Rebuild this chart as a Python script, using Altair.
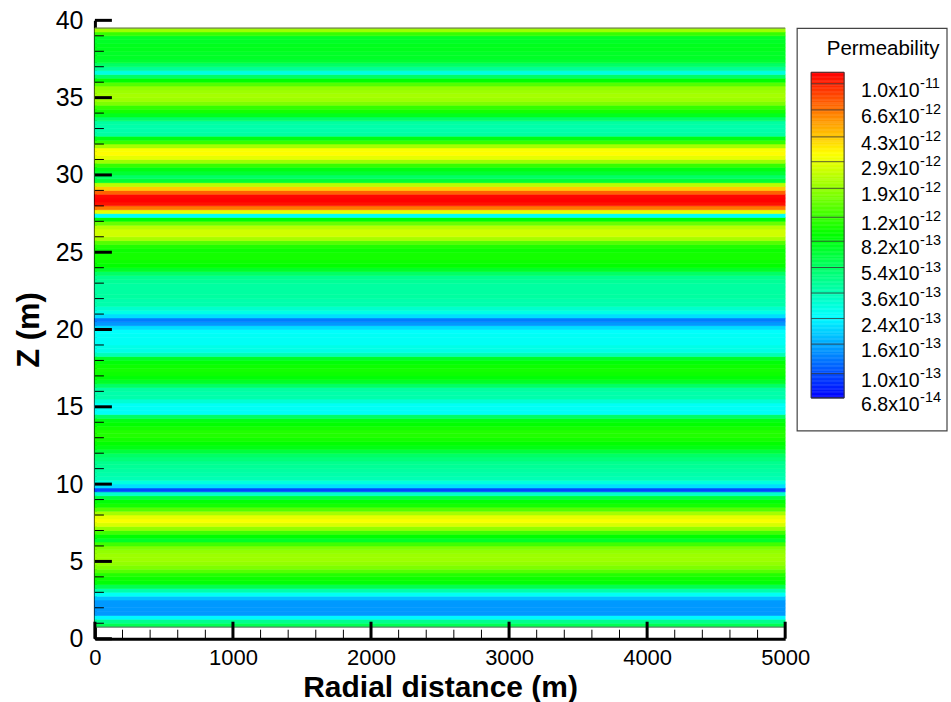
import numpy as np
import pandas as pd
import altair as alt

# ---------------------------------------------------------------------------
# Permeability profile (m^2): one value per 0.25 m layer, from z = 0.75 m up to
# z = 39.5 m. The field does not vary with radial distance.
# ---------------------------------------------------------------------------
z_start = 0.75
layer_dz = 0.25
r_min, r_max = 0.0, 5000.0

permeability = [
    6.0e-13,
    4.4e-13, 2.4e-13, 1.48e-13, 1.48e-13,      # 1.0 - 2.0 m
    1.48e-13, 1.48e-13, 1.8e-13, 2.6e-13,      # 2 - 3
    3.8e-13, 6.0e-13, 8.7e-13, 9.6e-13,        # 3 - 4
    1.07e-12, 1.38e-12, 1.7e-12, 1.9e-12,      # 4 - 5
    2.0e-12, 2.0e-12, 1.9e-12, 1.7e-12,        # 5 - 6
    1.25e-12, 7.4e-13, 9.1e-13, 1.25e-12,      # 6 - 7
    1.9e-12, 2.7e-12, 3.2e-12, 2.9e-12,        # 7 - 8
    2.1e-12, 1.38e-12, 1.0e-12, 8.7e-13,       # 8 - 9
    6.7e-13, 3.2e-13, 9.8e-14, 2.1e-13,        # 9 - 10
    2.9e-13, 3.6e-13, 3.8e-13, 4.0e-13,        # 10 - 11
    4.2e-13, 4.4e-13, 4.9e-13, 5.4e-13,        # 11 - 12
    6.7e-13, 8.2e-13, 9.1e-13, 1.0e-12,        # 12 - 13
    1.07e-12, 1.07e-12, 1.0e-12, 9.1e-13,      # 13 - 14
    8.2e-13, 5.4e-13, 2.6e-13, 2.6e-13,        # 14 - 15
    2.6e-13, 3.1e-13, 3.8e-13, 3.8e-13,        # 15 - 16
    4.0e-13, 5.4e-13, 7.4e-13, 8.7e-13,        # 16 - 17
    9.6e-13, 1.0e-12, 9.6e-13, 8.7e-13,        # 17 - 18
    7.4e-13, 3.6e-13, 2.8e-13, 2.8e-13,        # 18 - 19
    2.6e-13, 2.6e-13, 2.6e-13, 2.5e-13,        # 19 - 20
    2.1e-13, 1.48e-13, 1.27e-13, 2.1e-13,      # 20 - 21
    2.8e-13, 3.2e-13, 3.8e-13, 3.8e-13,        # 21 - 22
    4.0e-13, 4.0e-13, 4.0e-13, 4.0e-13,        # 22 - 23
    4.2e-13, 4.4e-13, 5.4e-13, 7.4e-13,        # 23 - 24
    9.1e-13, 9.6e-13, 1.0e-12, 1.0e-12,        # 24 - 25
    9.6e-13, 1.07e-12, 1.38e-12, 2.1e-12,      # 25 - 26
    2.6e-12, 2.6e-12, 2.3e-12, 1.53e-12,       # 26 - 27
    9.1e-13, 2.5e-13, 2.9e-12, 6.6e-12,        # 27 - 28
    1.1e-11, 1.2e-11, 1.16e-11, 7.3e-12,       # 28 - 29
    4.3e-12, 2.3e-12, 7.0e-13, 5.4e-13,        # 29 - 30
    7.0e-13, 8.2e-13, 1.18e-12, 2.0e-12,       # 30 - 31
    2.9e-12, 3.35e-12, 3.2e-12, 2.1e-12,       # 31 - 32
    1.18e-12, 8.2e-13, 4.0e-13, 3.8e-13,       # 32 - 33
    3.8e-13, 4.0e-13, 5.4e-13, 7.8e-13,        # 33 - 34
    1.0e-12, 1.18e-12, 1.7e-12, 2.0e-12,       # 34 - 35
    2.1e-12, 2.0e-12, 1.9e-12, 1.38e-12,       # 35 - 36
    9.1e-13, 5.4e-13, 2.9e-13, 4.2e-13,        # 36 - 37
    5.4e-13, 7.0e-13, 7.4e-13, 7.4e-13,        # 37 - 38
    7.8e-13, 7.8e-13, 7.4e-13, 7.4e-13,        # 38 - 39
    1.18e-12, 2.0e-12,                         # 39 - 39.5
]

# Contour levels shown in the colour bar
levels = [6.8e-14, 1.0e-13, 1.6e-13, 2.4e-13, 3.6e-13, 5.4e-13, 8.2e-13,
          1.2e-12, 1.9e-12, 2.9e-12, 4.3e-12, 6.6e-12, 1.0e-11]
level_mantissa = ["6.8x10", "1.0x10", "1.6x10", "2.4x10", "3.6x10", "5.4x10",
                  "8.2x10", "1.2x10", "1.9x10", "2.9x10", "4.3x10", "6.6x10",
                  "1.0x10"]
level_exponent = ["-14", "-13", "-13", "-13", "-13", "-13", "-13",
                  "-12", "-12", "-12", "-12", "-12", "-11"]
k_low, k_high = 6.8e-14, 1.2e-11

x_ticks_major = [0, 1000, 2000, 3000, 4000, 5000]
x_ticks_minor = [v for v in range(0, 5001, 200) if v % 1000]
y_ticks_major = [0, 5, 10, 15, 20, 25, 30, 35, 40]
y_ticks_minor = [v for v in range(0, 41) if v % 5]

# ---------------------------------------------------------------------------
FONT = "Liberation Sans"
W, H = 691, 619

rainbow = ["#0000ff", "#00ffff", "#00ff00", "#ffff00", "#ff0000"]
cdomain = [float(v) for v in np.geomspace(k_low, k_high, len(rainbow))]


def cscale():
    return alt.Scale(type="log", domain=cdomain, range=rainbow,
                     interpolate="rgb", clamp=True)


z_lo = [z_start + i * layer_dz for i in range(len(permeability))]
cells = pd.DataFrame({
    "z0": z_lo,
    "z1": [z + layer_dz for z in z_lo],
    "k": permeability,
    "r0": r_min,
    "r1": r_max,
})

xscale = alt.Scale(domain=[0, 5000], nice=False, zero=False)
yscale = alt.Scale(domain=[0, 40], nice=False, zero=False)

xaxis = alt.Axis(values=x_ticks_major, format="d", title="Radial distance (m)",
                 grid=False, ticks=False, tickSize=0, domainWidth=3,
                 domainColor="black", labelFont=FONT, labelFontSize=22,
                 labelColor="black", labelPadding=9, labelFlush=False,
                 titleFont=FONT, titleFontSize=30, titleFontWeight="bold",
                 titleColor="black", titlePadding=4)
yaxis = alt.Axis(values=y_ticks_major, format="d", title="Z (m)",
                 grid=False, ticks=False, tickSize=0, domainWidth=3,
                 domainColor="black", labelFont=FONT, labelFontSize=25,
                 labelColor="black", labelPadding=12, labelFlush=False,
                 titleFont=FONT, titleFontSize=31, titleFontWeight="bold",
                 titleColor="black", titlePadding=10)

field = alt.Chart(cells).mark_rect(strokeWidth=0.6).encode(
    x=alt.X("r0:Q", scale=xscale, axis=xaxis),
    x2="r1:Q",
    y=alt.Y("z0:Q", scale=yscale, axis=yaxis),
    y2="z1:Q",
    color=alt.Color("k:Q", scale=cscale(), legend=None),
    stroke=alt.Stroke("k:Q", scale=cscale(), legend=None),
)

# mesh boundary lines at the top and bottom of the model
bounds = pd.DataFrame({"z": [z_lo[0], z_lo[-1] + layer_dz], "r0": r_min, "r1": r_max})
edges = alt.Chart(bounds).mark_rule(color="#666666", strokeWidth=1).encode(
    y=alt.Y("z:Q", scale=yscale, axis=yaxis),
    x=alt.X("r0:Q", scale=xscale, axis=xaxis),
    x2="r1:Q",
)


# inward tick marks
def yticks(vals, length, width):
    return alt.Chart(pd.DataFrame({"v": vals})).mark_rule(
        color="black", strokeWidth=width).encode(
        y=alt.Y("v:Q", scale=yscale, axis=yaxis),
        x=alt.value(0), x2=alt.value(length))


def xticks(vals, length, width):
    return alt.Chart(pd.DataFrame({"v": vals})).mark_rule(
        color="black", strokeWidth=width).encode(
        x=alt.X("v:Q", scale=xscale, axis=xaxis),
        y=alt.value(H), y2=alt.value(H - length))


main = alt.layer(
    field, edges,
    yticks(y_ticks_minor, 9, 1), yticks(y_ticks_major, 17, 3),
    xticks(x_ticks_minor, 9, 1), xticks(x_ticks_major, 17, 3),
).properties(width=W, height=H)

# ---------------------------------------------------------------------------
# Colour bar
LW, LH = 150, 411
lscale = alt.Scale(type="log", domain=[k_low, k_high], range=[378, 52], nice=False)
bar_x0, bar_x1 = 14, 47
lab_x, lab_fs, exp_fs = 64, 19.5, 14.5
exp_x = lab_x + 3.002 * lab_fs + 0.5

edges_k = np.geomspace(k_low, k_high, 241)
grad = pd.DataFrame({"lo": edges_k[:-1], "hi": edges_k[1:],
                     "mid": np.sqrt(edges_k[:-1] * edges_k[1:])})

gradient = alt.Chart(grad).mark_rect(strokeWidth=0.5).encode(
    y=alt.Y("lo:Q", scale=lscale, axis=None), y2="hi:Q",
    x=alt.value(bar_x0), x2=alt.value(bar_x1),
    color=alt.Color("mid:Q", scale=cscale(), legend=None),
    stroke=alt.Stroke("mid:Q", scale=cscale(), legend=None),
)

lev = pd.DataFrame({"k": levels, "m": level_mantissa, "e": level_exponent})
lines = alt.Chart(lev).mark_rule(color="#333333", strokeWidth=1, opacity=0.8).encode(
    y=alt.Y("k:Q", scale=lscale, axis=None),
    x=alt.value(bar_x0), x2=alt.value(bar_x1))

outline = alt.Chart(pd.DataFrame({"a": [k_low], "b": [k_high]})).mark_rect(
    filled=False, stroke="#333333", strokeWidth=1).encode(
    y=alt.Y("a:Q", scale=lscale, axis=None), y2="b:Q",
    x=alt.value(bar_x0), x2=alt.value(bar_x1))

mant = alt.Chart(lev).mark_text(font=FONT, fontSize=lab_fs, align="left",
                                baseline="middle", dy=7, color="black").encode(
    y=alt.Y("k:Q", scale=lscale, axis=None), x=alt.value(lab_x), text="m:N")
expo = alt.Chart(lev).mark_text(font=FONT, fontSize=exp_fs, align="left",
                                baseline="middle", dy=0, color="black").encode(
    y=alt.Y("k:Q", scale=lscale, axis=None), x=alt.value(exp_x), text="e:N")

one = pd.DataFrame({"t": ["Permeability"]})
ltitle = alt.Chart(one).mark_text(font=FONT, fontSize=20.5, align="center",
                                  baseline="middle", color="black").encode(
    x=alt.value(86), y=alt.value(29), text="t:N")
frame = alt.Chart(one).mark_rect(filled=False, stroke="#444444", strokeWidth=1.2).encode(
    x=alt.value(0), x2=alt.value(LW), y=alt.value(8), y2=alt.value(LH))

legend = alt.layer(frame, ltitle, gradient, lines, outline, mant, expo).properties(
    width=LW, height=LH)

chart = alt.hconcat(main, legend, spacing=12, bounds="flush").properties(
    padding={"left": 13, "top": 8, "right": 3, "bottom": 0},
    background="white",
).configure_view(stroke=None)

chart.save("out.html", embed_options={"renderer": "svg", "actions": False})
